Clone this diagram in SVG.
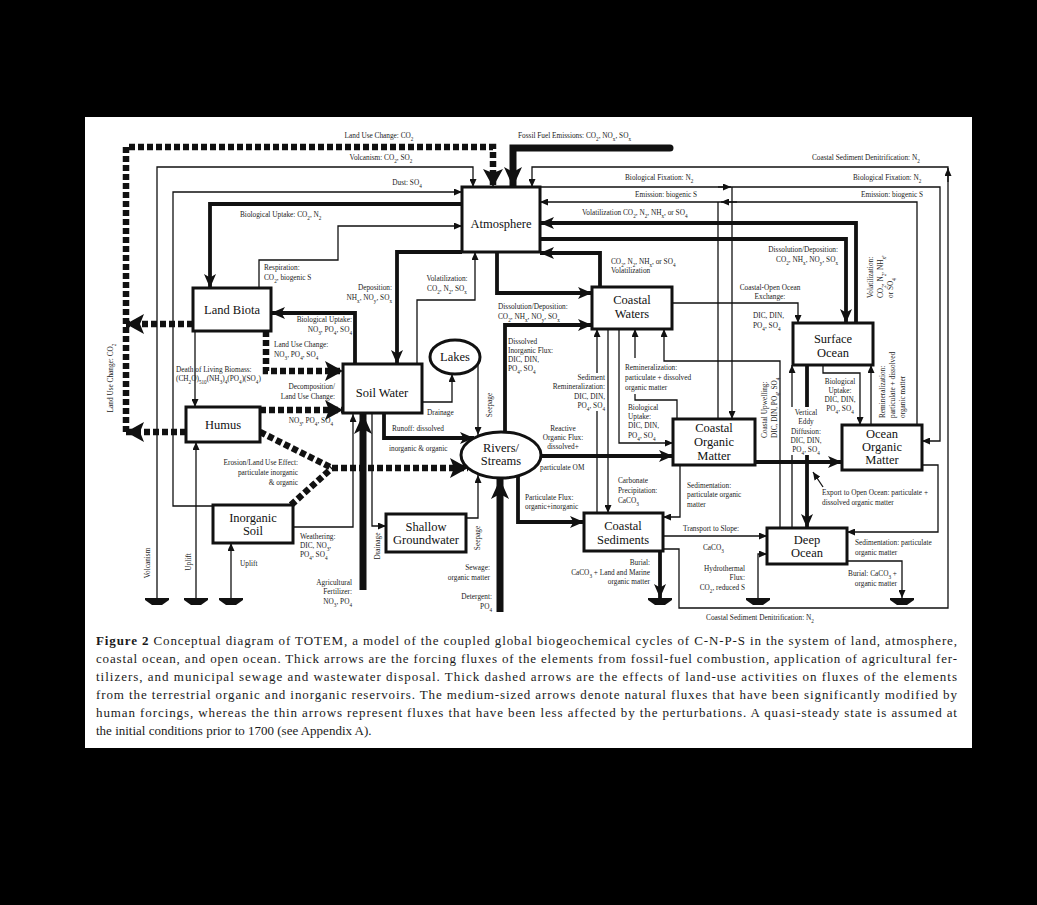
<svg xmlns="http://www.w3.org/2000/svg" width="1037" height="905" viewBox="0 0 1037 905">
<defs>
<style>
.bx{fill:#fff;stroke:#111;stroke-width:3}
.n{font-family:"Liberation Serif","DejaVu Serif",serif;font-size:12.5px;fill:#111;text-anchor:middle}
.l{font-family:"Liberation Serif","DejaVu Serif",serif;font-size:7.3px;fill:#222}
.m{text-anchor:middle}
.e{text-anchor:end}
.b{font-size:5.2px;baseline-shift:sub}
.c{fill:none;stroke:#111}
.t{stroke-width:1.3;marker-end:url(#at)}
.md{stroke-width:3.8;marker-end:url(#am)}
.tk{stroke-width:7;marker-end:url(#ak)}
.d{stroke-width:6.5;stroke-dasharray:6 3;marker-end:url(#ad)}
.nm{marker-end:none}
.g{fill:#111}
.cap{font-family:"Liberation Serif","DejaVu Serif",serif;font-size:13px;fill:#1a1a1a}
</style>
<marker id="at" markerUnits="userSpaceOnUse" viewBox="0 0 8 7" markerWidth="8" markerHeight="7" refX="8" refY="3.5" orient="auto"><path d="M0,0 L8,3.5 L0,7 Z" fill="#111"/></marker>
<marker id="am" markerUnits="userSpaceOnUse" viewBox="0 0 14 12" markerWidth="14" markerHeight="12" refX="14" refY="6" orient="auto"><path d="M0,0 L14,6 L0,12 L3.5,6 Z" fill="#111"/></marker>
<marker id="ak" markerUnits="userSpaceOnUse" viewBox="0 0 20 18" markerWidth="20" markerHeight="18" refX="20" refY="9" orient="auto"><path d="M0,0 L20,9 L0,18 L5,9 Z" fill="#111"/></marker>
<marker id="ad" markerUnits="userSpaceOnUse" viewBox="0 0 18 20" markerWidth="18" markerHeight="20" refX="18" refY="10" orient="auto"><path d="M0,0 L18,10 L0,20 L4,10 Z" fill="#111"/></marker>
</defs>
<rect width="1037" height="905" fill="#000"/>
<rect x="85" y="117" width="887" height="631" fill="#fff"/>

<g id="connectors">
<path class="c d" d="M126,432 V147 H493 V187"/>
<path class="c d" d="M193,324 H126"/>
<path class="c d" d="M186,432 H126"/>
<path class="c d" d="M266,331 V371 H343"/>
<path class="c d" d="M260,410 H343"/>
<path class="c d nm" d="M260,432 L332,468"/>
<path class="c d nm" d="M291,505 L332,468"/>
<path class="c d" d="M332,468 H468"/>
<path class="c tk" d="M670,148 H513 V187" stroke-linecap="round"/>
<path class="c tk" d="M363,590 V414"/>
<path class="c tk" d="M500,612 V479"/>
<path class="c md" d="M462,204 H210 V288"/>
<path class="c md" d="M462,252 H397 V364"/>
<path class="c md" d="M497,252 V293 H592"/>
<path class="c md" d="M505,432 V325 H592"/>
<path class="c md" d="M600,287 V253 H540"/>
<path class="c md" d="M856,323 V223 H540"/>
<path class="c md" d="M540,239 H846 V323"/>
<path class="c md" d="M355,364 V313 H271"/>
<path class="c md" d="M384,413 V438 H474"/>
<path class="c md" d="M541,456 H673"/>
<path class="c md" d="M518,475 V522 H584"/>
<path class="c md" d="M755,462 H842"/>
<path class="c md" d="M807,365 V528"/>
<path class="c md" d="M660,551 V598"/>
<path class="c t" d="M157,598 V167 H473 V187"/>
<path class="c t" d="M215,506 H173 V192 H462"/>
<path class="c t" d="M259,288 V260 H338 V226 H462"/>
<path class="c t" d="M663,549 H679 V608 H948 V167 H532 V187"/>
<path class="c t" d="M948,182 V168"/>
<path class="c t" d="M540,187 H940 V441 H922"/>
<path class="c t" d="M718,187 H731"/>
<path class="c t" d="M732,187 V419"/>
<path class="c t" d="M917,425 V202 H540"/>
<path class="c t" d="M737,202 H721"/>
<path class="c nm" stroke-width="1.3" d="M718,419 V202"/>
<path class="c t" d="M417,364 V300 H475 V252"/>
<path class="c t" d="M422,402 H452 V374"/>
<path class="c t" d="M478,364 V435"/>
<path class="c t" d="M195,331 V407"/>
<path class="c t" d="M196,598 V442"/>
<path class="c t" d="M231,598 V543"/>
<path class="c t" d="M293,527 H353 V414"/>
<path class="c t" d="M372,413 V526 H386"/>
<path class="c t" d="M466,518 H478 V475"/>
<path class="c t" d="M597,513 V329"/>
<path class="c t" d="M608,329 V513"/>
<path class="c t" d="M619,329 V443 H673"/>
<path class="c nm" stroke-width="1.3" d="M677,419 V400 H635 V394"/>
<path class="c t" d="M635,358 V329"/>
<path class="c t" d="M780,528 V361 H664 V329"/>
<path class="c t" d="M672,303 H798 V323"/>
<path class="c t" d="M792,528 V365"/>
<path class="c t" d="M823,365 V373 H860 V425"/>
<path class="c t" d="M871,425 V365"/>
<path class="c t" d="M680,465 V517 H663"/>
<path class="c t" d="M663,536 H767"/>
<path class="c t" d="M758,598 V554 H767"/>
<path class="c t" d="M922,465 H938 V532 H847"/>
<path class="c t" d="M847,561 H902 V598"/>
<path class="c t" d="M823,487 L813,472"/>
<path class="g" d="M145,598 H169 V600 L162,605 H152 L145,600 Z"/>
<path class="g" d="M184,598 H208 V600 L201,605 H191 L184,600 Z"/>
<path class="g" d="M219,598 H243 V600 L236,605 H226 L219,600 Z"/>
<path class="g" d="M648,598 H672 V600 L665,605 H655 L648,600 Z"/>
<path class="g" d="M746,598 H770 V600 L763,605 H753 L746,600 Z"/>
<path class="g" d="M890,598 H914 V600 L907,605 H897 L890,600 Z"/>
</g>

<g id="atmosphere"><rect class="bx" x="462" y="187" width="78" height="65"/><text class="n" x="501" y="228" font-size="13">Atmosphere</text></g>
<g id="land-biota"><rect class="bx" x="193" y="288" width="78" height="43"/><text class="n" x="232" y="314">Land Biota</text></g>
<g id="humus"><rect class="bx" x="186" y="407" width="74" height="35"/><text class="n" x="223" y="429">Humus</text></g>
<g id="inorganic-soil"><rect class="bx" x="213" y="505" width="80" height="38"/><text class="n" x="253" y="522">Inorganic</text><text class="n" x="253" y="535">Soil</text></g>
<g id="soil-water"><rect class="bx" x="343" y="364" width="79" height="49"/><text class="n" x="382" y="397">Soil Water</text></g>
<g id="lakes"><ellipse cx="455" cy="357" rx="25" ry="17" fill="#fff" stroke="#111" stroke-width="3"/><text class="n" x="455" y="361">Lakes</text></g>
<g id="rivers-streams"><ellipse cx="501" cy="455" rx="40" ry="23" fill="#fff" stroke="#111" stroke-width="3"/><text class="n" x="501" y="452">Rivers/</text><text class="n" x="501" y="465">Streams</text></g>
<g id="shallow-groundwater"><rect class="bx" x="386" y="514" width="80" height="38"/><text class="n" x="426" y="531">Shallow</text><text class="n" x="426" y="544">Groundwater</text></g>
<g id="coastal-waters"><rect class="bx" x="592" y="287" width="80" height="42"/><text class="n" x="632" y="304">Coastal</text><text class="n" x="632" y="318">Waters</text></g>
<g id="coastal-organic-matter"><rect class="bx" x="673" y="419" width="82" height="46"/><text class="n" x="714" y="432">Coastal</text><text class="n" x="714" y="446">Organic</text><text class="n" x="714" y="460">Matter</text></g>
<g id="coastal-sediments"><rect class="bx" x="584" y="513" width="79" height="38"/><text class="n" x="623" y="530">Coastal</text><text class="n" x="623" y="544">Sediments</text></g>
<g id="surface-ocean"><rect class="bx" x="793" y="323" width="80" height="42"/><text class="n" x="833" y="343">Surface</text><text class="n" x="833" y="357">Ocean</text></g>
<g id="ocean-organic-matter"><rect class="bx" x="842" y="425" width="80" height="45"/><text class="n" x="882" y="438">Ocean</text><text class="n" x="882" y="451">Organic</text><text class="n" x="882" y="464">Matter</text></g>
<g id="deep-ocean"><rect class="bx" x="767" y="528" width="80" height="36"/><text class="n" x="807" y="544">Deep</text><text class="n" x="807" y="557">Ocean</text></g>

<g id="labels">
<rect x="789" y="407" width="35" height="48" fill="#fff"/>
<rect x="569" y="373" width="38" height="38" fill="#fff"/>
<text class="l m" x="379" y="138">Land Use Change: CO<tspan class="b">2</tspan></text>
<text class="l m" x="381" y="160">Volcanism: CO<tspan class="b">2</tspan>, SO<tspan class="b">2</tspan></text>
<text class="l m" x="407" y="185">Dust: SO<tspan class="b">4</tspan></text>
<text class="l" x="240" y="217">Biological Uptake: CO<tspan class="b">2</tspan>, N<tspan class="b">2</tspan></text>
<text class="l" x="264" y="270">Respiration:</text>
<text class="l" x="264" y="280">CO<tspan class="b">2</tspan>, biogenic S</text>
<text class="l" x="518" y="138">Fossil Fuel Emissions: CO<tspan class="b">2</tspan>, NO<tspan class="b">x</tspan>, SO<tspan class="b">x</tspan></text>
<text class="l" x="625" y="180">Biological Fixation: N<tspan class="b">2</tspan></text>
<text class="l" x="853" y="180">Biological Fixation: N<tspan class="b">2</tspan></text>
<text class="l" x="635" y="197">Emission: biogenic S</text>
<text class="l" x="861" y="197">Emission: biogenic S</text>
<text class="l" x="582" y="215">Volatilization CO<tspan class="b">2</tspan>, N<tspan class="b">2</tspan>, NH<tspan class="b">x</tspan>, or SO<tspan class="b">4</tspan></text>
<text class="l" x="812" y="160">Coastal Sediment Denitrification: N<tspan class="b">2</tspan></text>
<text class="l e" x="838" y="252">Dissolution/Deposition:</text>
<text class="l e" x="838" y="262">CO<tspan class="b">2</tspan>, NH<tspan class="b">x</tspan>, NO<tspan class="b">y</tspan>, SO<tspan class="b">x</tspan></text>
<text class="l" transform="rotate(-90 873 298)" x="873" y="298">Volatilization:</text>
<text class="l" transform="rotate(-90 883 298)" x="883" y="298">CO<tspan class="b">2</tspan>, N<tspan class="b">2</tspan>, NH<tspan class="b">x</tspan>,</text>
<text class="l" transform="rotate(-90 893 298)" x="893" y="298">or SO<tspan class="b">4</tspan></text>
<text class="l" x="611" y="264">CO<tspan class="b">2</tspan>, N<tspan class="b">2</tspan>, NH<tspan class="b">x</tspan>, or SO<tspan class="b">4</tspan></text>
<text class="l" x="611" y="273">Volatilization</text>
<text class="l m" x="447" y="281">Volatilization:</text>
<text class="l m" x="447" y="291">CO<tspan class="b">2</tspan>, N<tspan class="b">2</tspan>, SO<tspan class="b">x</tspan></text>
<text class="l e" x="392" y="290">Deposition:</text>
<text class="l e" x="392" y="300">NH<tspan class="b">x</tspan>, NO<tspan class="b">y</tspan>, SO<tspan class="b">x</tspan></text>
<text class="l" x="498" y="309">Dissolution/Deposition:</text>
<text class="l" x="498" y="319">CO<tspan class="b">2</tspan>, NH<tspan class="b">x</tspan>, NO<tspan class="b">y</tspan>, SO<tspan class="b">x</tspan></text>
<text class="l" x="508" y="344">Dissolved</text>
<text class="l" x="508" y="353">Inorganic Flux:</text>
<text class="l" x="508" y="362">DIC, DIN,</text>
<text class="l" x="508" y="371">PO<tspan class="b">4</tspan>, SO<tspan class="b">4</tspan></text>
<text class="l e" x="352" y="322">Biological Uptake:</text>
<text class="l e" x="352" y="332">NO<tspan class="b">3</tspan>, PO<tspan class="b">4</tspan>, SO<tspan class="b">4</tspan></text>
<text class="l" x="274" y="347">Land Use Change:</text>
<text class="l" x="274" y="357">NO<tspan class="b">3</tspan>, PO<tspan class="b">4</tspan>, SO<tspan class="b">4</tspan></text>
<text class="l e" x="335" y="389">Decomposition/</text>
<text class="l e" x="335" y="399">Land Use Change:</text>
<text class="l e" x="333" y="423">NO<tspan class="b">3</tspan>, PO<tspan class="b">4</tspan>, SO<tspan class="b">4</tspan></text>
<text class="l" x="176" y="372">Death of Living Biomass:</text>
<text class="l" x="176" y="381">(CH<tspan class="b">2</tspan>O)<tspan class="b">510</tspan>(NH<tspan class="b">3</tspan>)<tspan class="b">4</tspan>(PO<tspan class="b">4</tspan>)(SO<tspan class="b">4</tspan>)</text>
<text class="l m" transform="rotate(-90 113 378)" x="113" y="378">Land Use Change: CO<tspan class="b">2</tspan></text>
<text class="l e" x="298" y="465">Erosion/Land Use Effect:</text>
<text class="l e" x="298" y="475">particulate inorganic</text>
<text class="l e" x="298" y="485">&amp; organic</text>
<text class="l m" transform="rotate(-90 150 563)" x="150" y="563">Volcanism</text>
<text class="l m" transform="rotate(-90 191 562)" x="191" y="562">Uplift</text>
<text class="l" x="240" y="566">Uplift</text>
<text class="l" x="300" y="539">Weathering:</text>
<text class="l" x="300" y="548">DIC, NO<tspan class="b">3</tspan>,</text>
<text class="l" x="300" y="557">PO<tspan class="b">4</tspan>, SO<tspan class="b">4</tspan></text>
<text class="l e" x="352" y="585">Agricultural</text>
<text class="l e" x="352" y="594">Fertilizer:</text>
<text class="l e" x="352" y="604">NO<tspan class="b">3</tspan>, PO<tspan class="b">4</tspan></text>
<text class="l m" transform="rotate(-90 380 546)" x="380" y="546">Drainage</text>
<text class="l m" transform="rotate(-90 480 538)" x="480" y="538">Seepage</text>
<text class="l m" transform="rotate(-90 492 405)" x="492" y="405">Seepage</text>
<text class="l" x="427" y="415">Drainage</text>
<text class="l" x="392" y="431">Runoff: dissolved</text>
<text class="l" x="389" y="451">inorganic &amp; organic</text>
<text class="l e" x="490" y="570">Sewage:</text>
<text class="l e" x="490" y="580">organic matter</text>
<text class="l e" x="492" y="599">Detergent:</text>
<text class="l e" x="492" y="609">PO<tspan class="b">4</tspan></text>
<text class="l e" x="605" y="380">Sediment</text>
<text class="l e" x="605" y="389">Remineralization:</text>
<text class="l e" x="605" y="399">DIC, DIN,</text>
<text class="l e" x="605" y="408">PO<tspan class="b">4</tspan>, SO<tspan class="b">4</tspan></text>
<text class="l m" x="563" y="431">Reactive</text>
<text class="l m" x="563" y="440">Organic Flux:</text>
<text class="l m" x="563" y="449">dissolved+</text>
<text class="l" x="540" y="470">particulate OM</text>
<text class="l" x="525" y="500">Particulate Flux:</text>
<text class="l" x="525" y="509">organic+inorganic</text>
<text class="l" x="618" y="483">Carbonate</text>
<text class="l" x="618" y="493">Precipitation:</text>
<text class="l" x="618" y="503">CaCO<tspan class="b">3</tspan></text>
<text class="l" x="628" y="410">Biological</text>
<text class="l" x="628" y="419">Uptake:</text>
<text class="l" x="628" y="428">DIC, DIN,</text>
<text class="l" x="628" y="438">PO<tspan class="b">4</tspan>, SO<tspan class="b">4</tspan></text>
<text class="l" x="625" y="370">Remineralization:</text>
<text class="l" x="625" y="380">particulate + dissolved</text>
<text class="l" x="625" y="390">organic matter</text>
<text class="l m" x="770" y="290">Coastal-Open Ocean</text>
<text class="l m" x="770" y="299">Exchange:</text>
<text class="l" x="753" y="318">DIC, DIN,</text>
<text class="l" x="753" y="328">PO<tspan class="b">4</tspan>, SO<tspan class="b">4</tspan></text>
<text class="l" transform="rotate(-90 767 438)" x="767" y="438">Coastal Upwelling:</text>
<text class="l" transform="rotate(-90 777 438)" x="777" y="438">DIC, DIN, PO<tspan class="b">4</tspan>, SO<tspan class="b">4</tspan></text>
<text class="l m" x="806" y="415">Vertical</text>
<text class="l m" x="806" y="424">Eddy</text>
<text class="l m" x="806" y="434">Diffusion:</text>
<text class="l m" x="806" y="443">DIC, DIN,</text>
<text class="l m" x="806" y="452">PO<tspan class="b">4</tspan>, SO<tspan class="b">4</tspan></text>
<text class="l m" x="840" y="384">Biological</text>
<text class="l m" x="840" y="393">Uptake:</text>
<text class="l m" x="840" y="402">DIC, DIN,</text>
<text class="l m" x="840" y="411">PO<tspan class="b">4</tspan>, SO<tspan class="b">4</tspan></text>
<text class="l" transform="rotate(-90 885 418)" x="885" y="418">Remineralization:</text>
<text class="l" transform="rotate(-90 895 418)" x="895" y="418">particulate + dissolved</text>
<text class="l" transform="rotate(-90 905 418)" x="905" y="418">organic matter</text>
<text class="l" x="822" y="495">Export to Open Ocean: particulate +</text>
<text class="l" x="822" y="505">dissolved organic matter</text>
<text class="l" x="687" y="488">Sedimentation:</text>
<text class="l" x="687" y="497">particulate organic</text>
<text class="l" x="687" y="507">matter</text>
<text class="l" x="683" y="531">Transport to Slope:</text>
<text class="l" x="703" y="550">CaCO<tspan class="b">3</tspan></text>
<text class="l e" x="745" y="571">Hydrothermal</text>
<text class="l e" x="745" y="580">Flux:</text>
<text class="l e" x="745" y="590">CO<tspan class="b">2</tspan>, reduced S</text>
<text class="l e" x="650" y="565">Burial:</text>
<text class="l e" x="650" y="575">CaCO<tspan class="b">3</tspan> + Land and Marine</text>
<text class="l e" x="650" y="584">organic matter</text>
<text class="l" x="855" y="545">Sedimentation: particulate</text>
<text class="l" x="855" y="555">organic matter</text>
<text class="l e" x="897" y="576">Burial: CaCO<tspan class="b">3</tspan> +</text>
<text class="l e" x="897" y="586">organic matter</text>
<text class="l m" x="760" y="620">Coastal Sediment Denitrification: N<tspan class="b">2</tspan></text>
</g>

<g id="caption">
<text class="cap" x="96" y="645" textLength="861" lengthAdjust="spacing"><tspan font-weight="bold">Figure 2</tspan>   Conceptual diagram of TOTEM, a model of the coupled global biogeochemical cycles of C-N-P-S in the system of land, atmosphere,</text>
<text class="cap" x="96" y="663" textLength="861" lengthAdjust="spacing">coastal ocean, and open ocean. Thick arrows are the forcing fluxes of the elements from fossil-fuel combustion, application of agricultural fer-</text>
<text class="cap" x="96" y="681" textLength="861" lengthAdjust="spacing">tilizers, and municipal sewage and wastewater disposal. Thick dashed arrows are the effects of land-use activities on fluxes of the elements</text>
<text class="cap" x="96" y="699" textLength="861" lengthAdjust="spacing">from the terrestrial organic and inorganic reservoirs. The medium-sized arrows denote natural fluxes that have been significantly modified by</text>
<text class="cap" x="96" y="717" textLength="861" lengthAdjust="spacing">human forcings, whereas the thin arrows represent fluxes that have been less affected by the perturbations. A quasi-steady state is assumed at</text>
<text class="cap" x="96" y="735">the initial conditions prior to 1700 (see Appendix A).</text>
</g>
</svg>
